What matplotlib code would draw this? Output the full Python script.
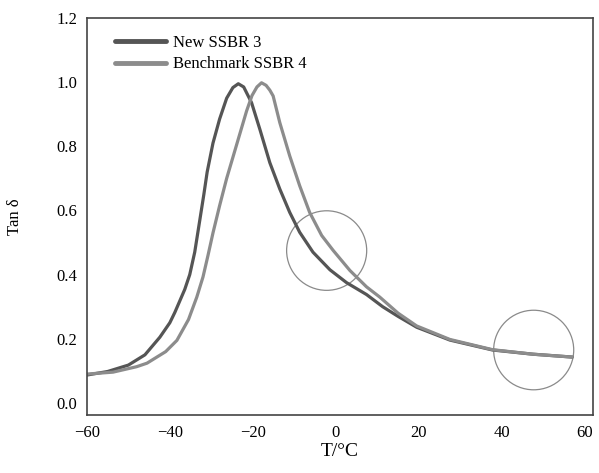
import matplotlib.pyplot as plt
from matplotlib.patches import Ellipse

# Tan delta vs temperature
t_new = [-60, -55, -50, -46, -42.4, -40, -38.8, -37.6, -36.4, -35.2, -34, -32.8, -31.8,
         -31, -29.6, -28, -26.3, -24.8, -23.5, -22.2, -20.3, -18.3, -15.9, -13.5,
         -11.1, -8.7, -5.5, -1.4, 2.6, 7.4, 11.3, 15, 19.5, 27.5, 37.8, 47.5, 57]
tan_new = [0.087, 0.098, 0.118, 0.15, 0.205, 0.25, 0.282, 0.318, 0.354, 0.40, 0.47, 0.568, 0.65,
           0.72, 0.81, 0.885, 0.95, 0.983, 0.995, 0.985, 0.936, 0.853, 0.749, 0.667,
           0.594, 0.532, 0.470, 0.415, 0.375, 0.338, 0.30, 0.27, 0.236, 0.196, 0.165, 0.152, 0.143]

t_bench = [-60, -53.7, -48, -45.5, -41, -38.3, -35.5, -33.5, -32, -30.8, -29.6, -28,
           -26.3, -24.7, -23.1, -21.5, -20.2, -19, -17.9, -16.8, -15.9, -15.1, -13.5,
           -11.1, -8.7, -6.3, -3.4, -0.6, 3.4, 7.4, 10.6, 15, 19.5, 27.5, 37.8, 47.5, 57]
tan_bench = [0.09, 0.096, 0.113, 0.124, 0.16, 0.195, 0.26, 0.33, 0.393, 0.46, 0.53, 0.615,
             0.70, 0.77, 0.84, 0.91, 0.958, 0.985, 0.998, 0.99, 0.975, 0.957, 0.874,
             0.77, 0.677, 0.594, 0.522, 0.475, 0.413, 0.362, 0.33, 0.28, 0.24, 0.198, 0.166, 0.152, 0.143]

# highlighted regions (centre T, centre tan delta)
circles = [(-2.2, 0.475), (47.7, 0.165)]

x_ticks = [-60, -40, -20, 0, 20, 40, 60]
y_ticks = [0.0, 0.2, 0.4, 0.6, 0.8, 1.0, 1.2]

plt.rcParams['font.family'] = ['Liberation Serif', 'DejaVu Serif']

fig = plt.figure(figsize=(5.99, 4.73), dpi=100)
ax = fig.add_axes([0.145, 0.123, 0.845, 0.839])

ax.plot(t_new, tan_new, color='#555555', lw=2.3, label='New SSBR 3',
        solid_capstyle='round', solid_joinstyle='round')
ax.plot(t_bench, tan_bench, color='#8c8c8c', lw=2.3, label='Benchmark SSBR 4',
        solid_capstyle='round', solid_joinstyle='round')

for cx, cy in circles:
    ax.add_patch(Ellipse((cx, cy), 19.3, 0.248, fill=False, ec='#8a8a8a', lw=0.9))

ax.set_xlim(-60, 62)
ax.set_ylim(-0.037, 1.2)
ax.set_xticks(x_ticks)
ax.set_xticklabels(['\u221260', '\u221240', '\u221220', '0', '20', '40', '60'])
ax.set_yticks(y_ticks)
ax.set_yticklabels([f'{v:.1f}' for v in y_ticks])
ax.tick_params(axis='both', length=0, labelsize=12, pad=7)

for s in ax.spines.values():
    s.set_color('#444444')
    s.set_linewidth(1.2)

ax.set_xlabel('T/\u00b0C', fontsize=14, labelpad=2)
ax.set_ylabel('Tan \u03b4', fontsize=12, labelpad=24)

leg = ax.legend(loc='upper left', bbox_to_anchor=(0.022, 1.0), frameon=False, fontsize=12,
                handlelength=3.1, handletextpad=0.4, labelspacing=0.35, borderaxespad=0.6)
for line in leg.get_lines():
    line.set_linewidth(3.5)

fig.savefig('out.png', dpi=100)
